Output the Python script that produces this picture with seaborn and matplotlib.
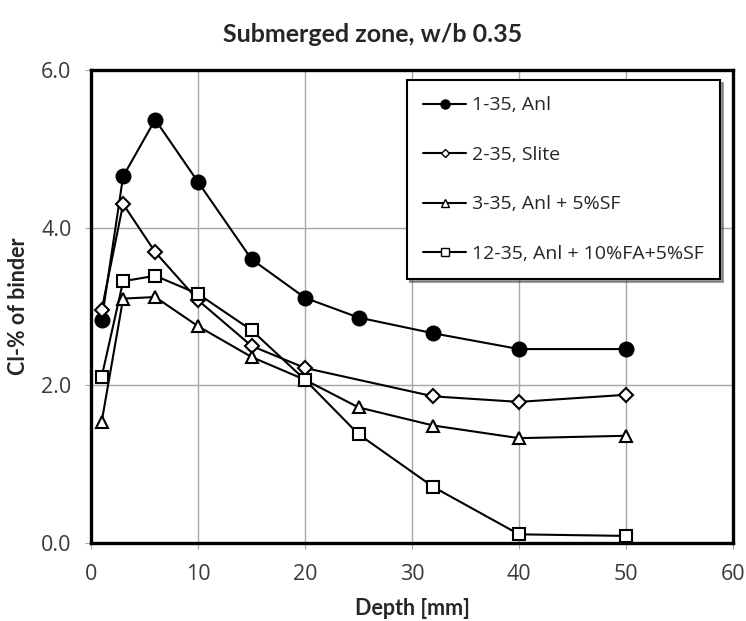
import pandas as pd
import seaborn as sns
import matplotlib.pyplot as plt

# Depths (mm) and Cl-% of binder per mix
depth_a = [1, 3, 6, 10, 15, 20, 25, 32, 40, 50]
depth_b = [1, 3, 6, 10, 15, 20, 32, 40, 50]

cl_anl = [2.83, 4.65, 5.37, 4.58, 3.60, 3.11, 2.86, 2.66, 2.46, 2.46]
cl_slite = [2.96, 4.30, 3.69, 3.08, 2.50, 2.22, 1.86, 1.79, 1.88]
cl_sf = [1.54, 3.10, 3.12, 2.75, 2.36, 2.07, 1.72, 1.49, 1.33, 1.36]
cl_fa_sf = [2.11, 3.32, 3.39, 3.16, 2.70, 2.07, 1.38, 0.71, 0.11, 0.09]

labels = ['1-35, Anl', '2-35, Slite', '3-35, Anl + 5%SF', '12-35, Anl + 10%FA+5%SF']

series = [
    (labels[0], depth_a, cl_anl, dict(marker='o', markersize=10, markerfacecolor='black')),
    (labels[1], depth_b, cl_slite, dict(marker='D', markersize=7, markerfacecolor='white')),
    (labels[2], depth_a, cl_sf, dict(marker='^', markersize=9, markerfacecolor='white')),
    (labels[3], depth_a, cl_fa_sf, dict(marker='s', markersize=8, markerfacecolor='white')),
]

sns.set_style('white')
plt.rcParams['font.family'] = ['Open Sans', 'DejaVu Sans']

fig = plt.figure(figsize=(7.46, 6.21), dpi=100)
ax = fig.add_axes([0.122, 0.1256, 0.8606, 0.7617])

for name, x, y, st in series:
    df = pd.DataFrame({'depth': x, 'cl': y})
    sns.lineplot(data=df, x='depth', y='cl', ax=ax, color='black', linewidth=1.5,
                 markeredgecolor='black', markeredgewidth=1.5, label=name, **st)

ax.set_xlim(0, 60)
ax.set_ylim(0, 6)
ax.set_xticks(range(0, 61, 10))
ax.set_yticks([0, 2, 4, 6])
ax.set_yticklabels(['0.0', '2.0', '4.0', '6.0'])
ax.grid(True, color='#a6a6a6', linewidth=1)
ax.set_axisbelow(True)
ax.tick_params(axis='both', labelsize=15.5, length=4, color='#a6a6a6', direction='out',
               labelcolor='#3a3a3a', bottom=True, left=True)
ax.tick_params(axis='x', pad=11)
ax.tick_params(axis='y', pad=10)
for s in ax.spines.values():
    s.set_color('black')
    s.set_linewidth(2.4)

ax.set_xlabel('Depth [mm]', fontsize=15.5, fontweight='bold', family='Lato')
ax.set_ylabel('Cl-% of binder', fontsize=15.5, fontweight='bold', family='Lato')
ax.xaxis.set_label_coords(0.5, (543 - 608) / 473)
ax.xaxis.label.set_va('center')
ax.yaxis.set_label_coords((18 - 91) / 642, 0.5)
ax.yaxis.label.set_va('center')
fig.text(0.5, 1 - 35 / 621, 'Submerged zone, w/b 0.35', ha='center', va='center',
         fontsize=18, fontweight='bold', family='Lato')

leg = ax.legend(loc='upper right', bbox_to_anchor=(0.98, 0.979), frameon=True, fancybox=False,
                shadow=True, edgecolor='black', prop={'family': 'Open Sans', 'size': 14},
                labelspacing=1.62, handlelength=2.2, handletextpad=0.3, borderpad=0.85,
                borderaxespad=0, markerscale=0.65)
leg.get_frame().set_linewidth(1.5)
for h in leg.legend_handles:
    h.set_markeredgewidth(1.0)

fig.savefig('out.png', dpi=100)
